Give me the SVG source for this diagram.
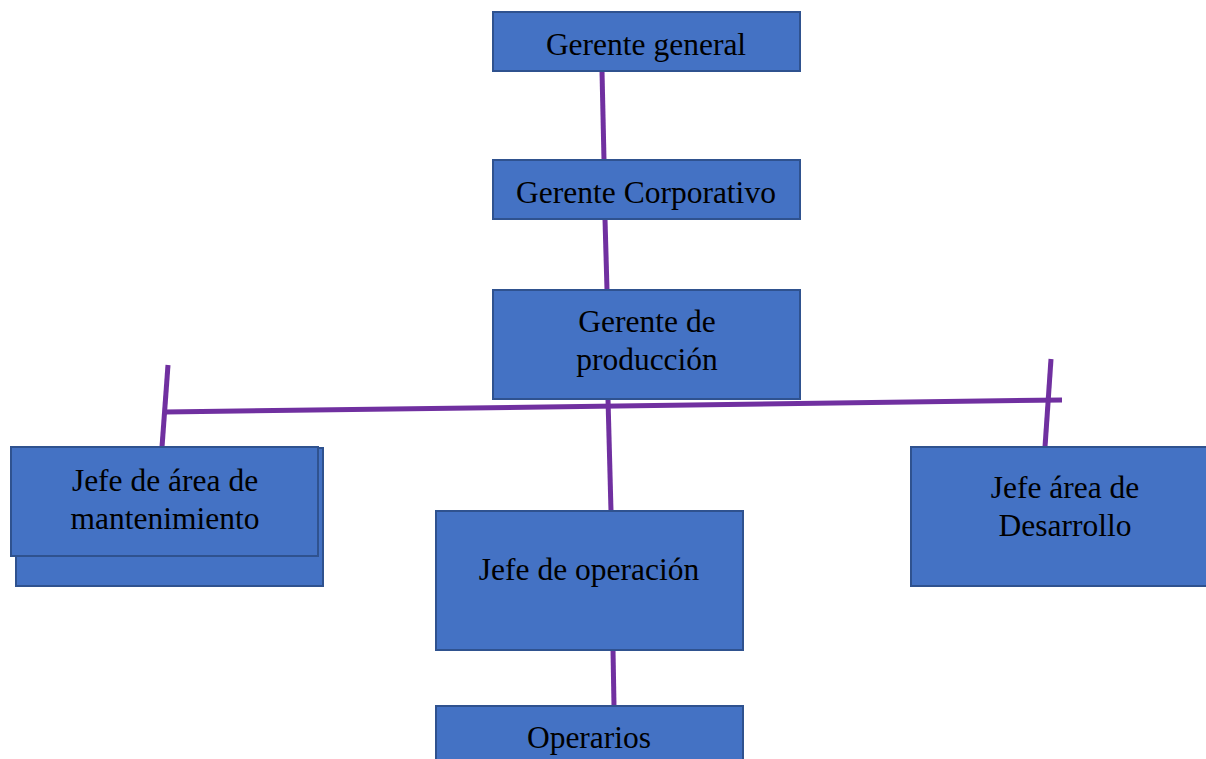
<svg xmlns="http://www.w3.org/2000/svg" width="1206" height="759" viewBox="0 0 1206 759">
<style>
.box{fill:#4472C4;stroke:#2F528F;stroke-width:2}
.t{font-family:"Liberation Serif","Times New Roman",serif;font-size:31.5px;fill:#000;text-anchor:middle}
.c{stroke:#7030A0;stroke-width:5;fill:none;stroke-linecap:butt}
</style>
<rect width="1206" height="759" fill="#fff"/>
<g id="connectors">
<line class="c" x1="602" y1="71" x2="604" y2="160"/>
<line class="c" x1="605" y1="219" x2="607" y2="290"/>
<line class="c" x1="165" y1="412" x2="1062" y2="400"/>
<line class="c" x1="168" y1="365" x2="162" y2="447"/>
<line class="c" x1="1051" y1="359" x2="1045" y2="447"/>
<line class="c" x1="608" y1="399" x2="611" y2="511"/>
<line class="c" x1="613" y1="650" x2="614" y2="706"/>
</g>
<g id="gerente-general">
<rect class="box" x="493" y="12" width="307" height="59"/>
<text class="t" x="646" y="55">Gerente general</text>
</g>
<g id="gerente-corporativo">
<rect class="box" x="493" y="160" width="307" height="59"/>
<text class="t" x="646" y="203">Gerente Corporativo</text>
</g>
<g id="gerente-produccion">
<rect class="box" x="493" y="290" width="307" height="109"/>
<text class="t" x="647" y="332">Gerente de</text>
<text class="t" x="647" y="370">producción</text>
</g>
<g id="jefe-mantenimiento">
<rect class="box" x="16" y="448" width="307" height="138"/>
<rect class="box" x="11" y="447" width="307" height="109"/>
<text class="t" x="165" y="491">Jefe de área de</text>
<text class="t" x="165" y="529">mantenimiento</text>
</g>
<g id="jefe-operacion">
<rect class="box" x="436" y="511" width="307" height="139"/>
<text class="t" x="589" y="580">Jefe de operación</text>
</g>
<g id="operarios">
<rect class="box" x="436" y="706" width="307" height="60"/>
<text class="t" x="589" y="748">Operarios</text>
</g>
<g id="jefe-desarrollo">
<rect class="box" x="911" y="447" width="300" height="139"/>
<text class="t" x="1065" y="498">Jefe área de</text>
<text class="t" x="1065" y="536">Desarrollo</text>
</g>
</svg>
